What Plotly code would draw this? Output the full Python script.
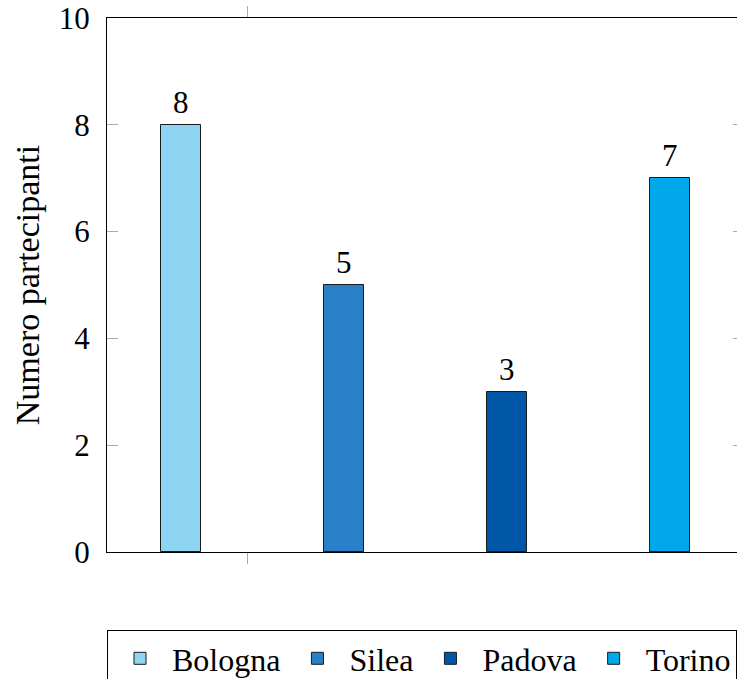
import plotly.graph_objects as go

# Data
cities = ["Bologna", "Silea", "Padova", "Torino"]
participants = [8, 5, 3, 7]
colors = ["#8DD5F3", "#2980C8", "#0057A7", "#00A7EA"]
y_ticks = [0, 2, 4, 6, 8, 10]

FONT = "Liberation Serif, DejaVu Serif, serif"
W, H = 737, 679
ML, MT, MB, MR = 107, 18, 127, 0

fig = go.Figure()
for i, (c, v, col) in enumerate(zip(cities, participants, colors)):
    fig.add_trace(go.Bar(
        x=[i], y=[v], name=c, width=0.245,
        marker=dict(color=col, line=dict(color="#1a1a1a", width=1)),
    ))
    fig.add_annotation(x=i, y=v, text=str(v), showarrow=False, yanchor="bottom",
                       yshift=3, font=dict(family=FONT, size=31, color="black"))

# invisible trace for right-side mirrored y ticks
fig.add_trace(go.Scatter(x=[0], y=[0], yaxis="y2", mode="markers",
                         marker=dict(opacity=0), showlegend=False, hoverinfo="skip"))

fig.update_layout(
    width=W, height=H,
    margin=dict(l=ML, r=MR, t=MT, b=MB, pad=0, autoexpand=False),
    plot_bgcolor="white", paper_bgcolor="white",
    font=dict(family=FONT, size=30, color="black"),
    bargap=0, barmode="overlay",
    showlegend=True,
    legend=dict(orientation="h", x=0, xanchor="left", yref="container",
                y=(679 - 630) / 679, yanchor="top",
                bordercolor="black", borderwidth=1, font=dict(size=32, family=FONT),
                itemwidth=54, traceorder="normal"),
    xaxis=dict(range=[-0.454, 3.411], tickvals=[0.41], showticklabels=False,
               ticks="outside", ticklen=11, tickcolor="#aaaaaa", tickwidth=1,
               showline=True, linecolor="black", linewidth=1.3, mirror="ticks",
               showgrid=False, zeroline=False, automargin=False),
    yaxis=dict(range=[0, 10], tickvals=y_ticks, ticks="inside", ticklen=11,
               tickcolor="#aaaaaa", tickwidth=1, showline=True, linecolor="black",
               linewidth=1.3, showgrid=False, zeroline=False, automargin=False,
               ticklabelstandoff=10,
               tickfont=dict(size=31, family=FONT),
               title=dict(text="Numero partecipanti", standoff=8,
                          font=dict(size=34, family=FONT))),
    yaxis2=dict(range=[0, 10], tickvals=y_ticks, overlaying="y", side="right",
                anchor="free", position=1, ticks="inside", ticklen=4,
                tickcolor="#aaaaaa", showticklabels=False, showline=False,
                showgrid=False, zeroline=False, automargin=False),
)

fig.write_html("out.html")
